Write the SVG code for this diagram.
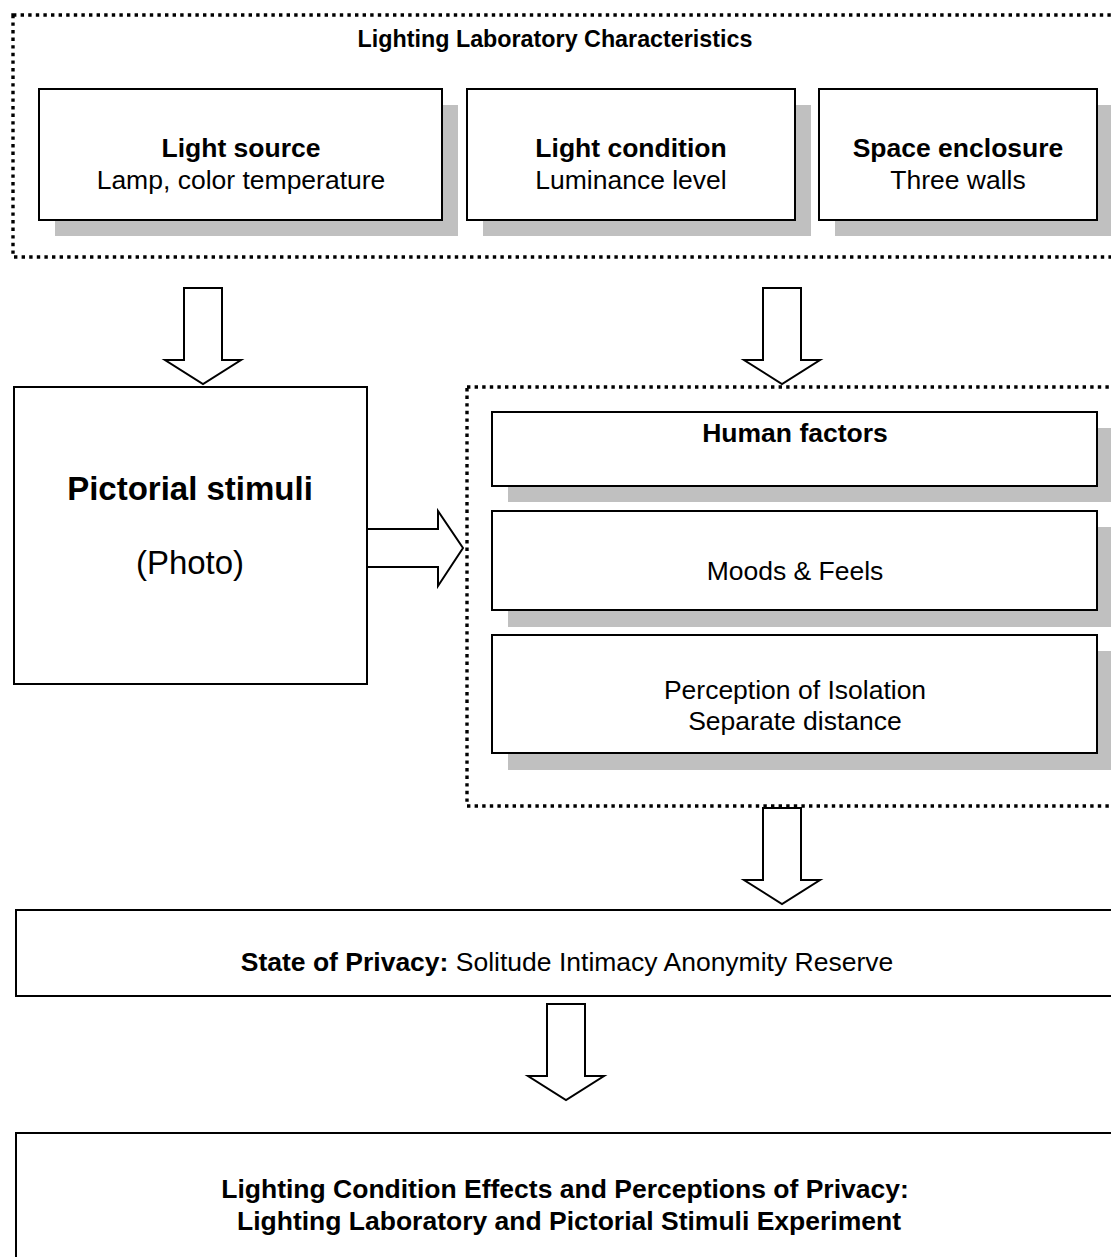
<svg xmlns="http://www.w3.org/2000/svg" width="1111" height="1257" viewBox="0 0 1111 1257">
  <style>
    .frame { fill: none; stroke: #000; stroke-width: 3.4; stroke-dasharray: 3.4 4.2; }
    .box { fill: #fff; stroke: #000; stroke-width: 2; }
    .shadow { fill: #c0c0c0; stroke: none; }
    .arrow { fill: #fff; stroke: #000; stroke-width: 2; stroke-linejoin: miter; }
    text { font-family: "Liberation Sans", Arial, sans-serif; fill: #000; text-anchor: middle; }
    .b { font-weight: bold; }
    .title { font-size: 23.3px; }
    .t26 { font-size: 26.5px; }
    .t33 { font-size: 33px; }
  </style>

  <!-- Lighting laboratory characteristics group -->
  <g id="lab-characteristics">
    <rect class="frame" x="13" y="15" width="1120" height="242"/>
    <text class="b title" x="555" y="47">Lighting Laboratory Characteristics</text>
  </g>

  <g id="light-source">
    <rect class="shadow" x="55" y="105" width="403" height="131"/>
    <rect class="box" x="39" y="89" width="403" height="131"/>
    <text class="b t26" x="241" y="157">Light source</text>
    <text class="t26" x="241" y="189">Lamp, color temperature</text>
  </g>

  <g id="light-condition">
    <rect class="shadow" x="483" y="105" width="328" height="131"/>
    <rect class="box" x="467" y="89" width="328" height="131"/>
    <text class="b t26" x="631" y="157">Light condition</text>
    <text class="t26" x="631" y="189">Luminance level</text>
  </g>

  <g id="space-enclosure">
    <rect class="shadow" x="835" y="105" width="290" height="131"/>
    <rect class="box" x="819" y="89" width="278" height="131"/>
    <text class="b t26" x="958" y="157">Space enclosure</text>
    <text class="t26" x="958" y="189">Three walls</text>
  </g>

  <g id="pictorial-stimuli">
    <rect class="box" x="14" y="387" width="353" height="297"/>
    <text class="b t33" x="190" y="500">Pictorial stimuli</text>
    <text class="t33" x="190" y="574">(Photo)</text>
  </g>

  <!-- Human factors group -->
  <g id="human-factors-group">
    <rect class="frame" x="467" y="387" width="670" height="419"/>
  </g>

  <g id="human-factors">
    <rect class="shadow" x="508" y="428" width="620" height="74"/>
    <rect class="box" x="492" y="412" width="605" height="74"/>
    <text class="b t26" x="795" y="442">Human factors</text>
  </g>

  <g id="moods-feels">
    <rect class="shadow" x="508" y="527" width="620" height="100"/>
    <rect class="box" x="492" y="511" width="605" height="99"/>
    <text class="t26" x="795" y="580">Moods &amp; Feels</text>
  </g>

  <g id="isolation">
    <rect class="shadow" x="508" y="651" width="620" height="119"/>
    <rect class="box" x="492" y="635" width="605" height="118"/>
    <text class="t26" x="795" y="699">Perception of Isolation</text>
    <text class="t26" x="795" y="730">Separate distance</text>
  </g>

  <g id="state-of-privacy">
    <rect class="box" x="16" y="910" width="1120" height="86"/>
    <text class="t26" x="567" y="971"><tspan class="b">State of Privacy:</tspan> Solitude Intimacy Anonymity Reserve</text>
  </g>

  <g id="experiment">
    <rect class="box" x="16" y="1133" width="1120" height="160"/>
    <text class="b t26" x="565" y="1198">Lighting Condition Effects and Perceptions of Privacy:</text>
    <text class="b t26" x="569" y="1230">Lighting Laboratory and Pictorial Stimuli Experiment</text>
  </g>

  <!-- Block arrows between stages -->
  <g id="connectors">
    <polygon class="arrow" points="184,288 222,288 222,360 241,360 203,384 165,360 184,360"/>
    <polygon class="arrow" points="763,288 801,288 801,360 820,360 782,384 744,360 763,360"/>
    <polygon class="arrow" points="367,529 438,529 438,511 463,548 438,586 438,567 367,567"/>
    <polygon class="arrow" points="763,808 801,808 801,880 820,880 782,904 744,880 763,880"/>
    <polygon class="arrow" points="547,1004 585,1004 585,1076 604,1076 566,1100 528,1076 547,1076"/>
  </g>
</svg>
